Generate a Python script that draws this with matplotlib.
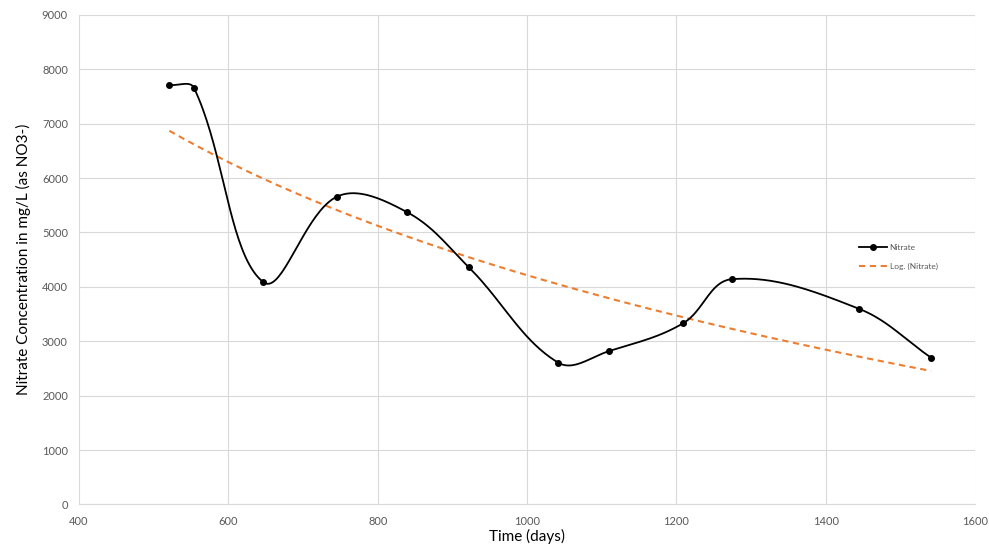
import numpy as np
import matplotlib
matplotlib.use("Agg")
import matplotlib.pyplot as plt

# data
days = [521, 554, 647, 745, 839, 922, 1042, 1110, 1209, 1274, 1444, 1541]
nitrate = [7710, 7655, 4085, 5655, 5375, 4360, 2605, 2820, 3330, 4140, 3600, 2700]
xticks = [400, 600, 800, 1000, 1200, 1400, 1600]
yticks = list(range(0, 9001, 1000))

plt.rcParams['font.family'] = ['Lato', 'DejaVu Sans']


def excel_smooth(x, y, sx, sy, n=40):
    # bezier smoothing, done in screen units (sx, sy = px per data unit)
    P = np.column_stack([np.asarray(x, float) * sx, np.asarray(y, float) * sy])
    m = len(P)
    tang = np.zeros_like(P)
    for i in range(m):
        a = P[max(i - 1, 0)]
        c = P[min(i + 1, m - 1)]
        d = np.linalg.norm(P[i] - a) + np.linalg.norm(c - P[i])
        tang[i] = (c - a) / d
    t = np.linspace(0, 1, n)[:, None]
    out = []
    for i in range(m - 1):
        p0, p3 = P[i], P[i + 1]
        L = np.linalg.norm(p3 - p0)
        p1 = p0 + tang[i] * L / 2.7
        p2 = p3 - tang[i + 1] * L / 2.7
        b = (1 - t) ** 3 * p0 + 3 * (1 - t) ** 2 * t * p1 + 3 * (1 - t) * t ** 2 * p2 + t ** 3 * p3
        out.append(b)
    out = np.vstack(out)
    return out[:, 0] / sx, out[:, 1] / sy


fig = plt.figure(figsize=(9.89, 5.47), dpi=100)
ax = fig.add_axes([0.0799, 0.0777, 0.906, 0.8953])

sx_, sy_ = excel_smooth(days, nitrate, 0.746, 0.0544)
ax.plot(sx_, sy_, color='black', lw=1.3, zorder=3)
ax.plot(days, nitrate, 'o', color='black', ms=4, zorder=4)
# legend proxy
ax.plot([], [], '-o', color='black', lw=1.3, ms=4, label='Nitrate')

# logarithmic trendline
b, a = np.polyfit(np.log(days), nitrate, 1)
tx = np.linspace(days[0], days[-1], 200)
ax.plot(tx, a + b * np.log(tx), '--', color='#ED7D31', lw=1.5,
        dashes=(3, 2.2), label='Log. (Nitrate)', zorder=2)

ax.set_xlim(400, 1600)
ax.set_ylim(0, 9000)
ax.set_xticks(xticks)
ax.set_yticks(yticks)
ax.grid(color='#d9d9d9', lw=0.8)
ax.set_axisbelow(True)
for s in ['top', 'right', 'left']:
    ax.spines[s].set_visible(False)
ax.spines['bottom'].set_color('#d9d9d9')
ax.tick_params(length=0, labelsize=8, colors='#595959', pad=8)

ax.set_xlabel('Time (days)', fontsize=11, labelpad=2)
ax.set_ylabel('Nitrate Concentration in mg/L (as NO3-)', fontsize=11, labelpad=8)

ax.legend(loc='center left', bbox_to_anchor=(0.862, 0.505), frameon=False,
          fontsize=6, handlelength=3.4, labelspacing=1.4, handletextpad=0.3,
          labelcolor='#595959')

fig.savefig('out.png', dpi=100)
